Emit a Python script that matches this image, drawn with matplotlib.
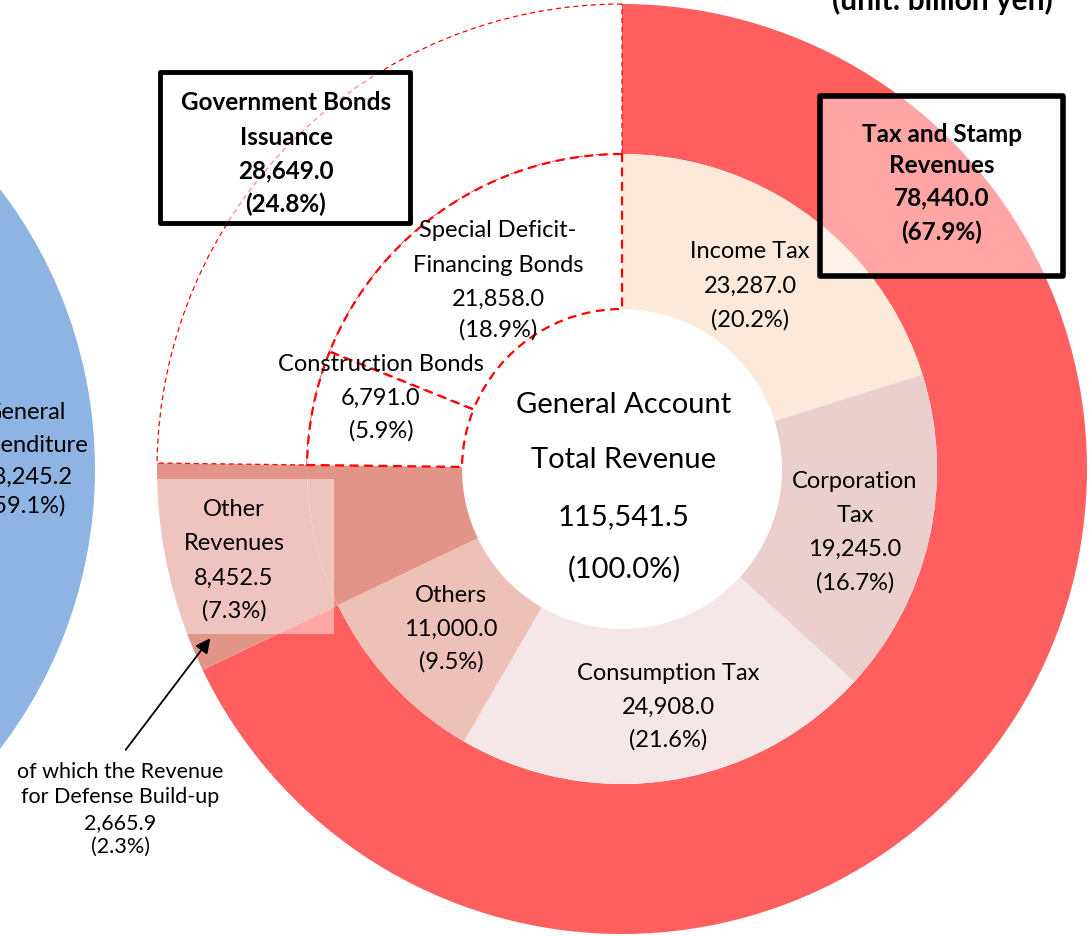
import matplotlib
matplotlib.use("Agg")
import matplotlib.pyplot as plt
from matplotlib.patches import Rectangle

# ---------------- data (billion yen) ----------------
outer_labels = ["Tax and Stamp\nRevenues", "Other\nRevenues", "Government Bonds\nIssuance"]
outer_values = [78440.0, 8452.5, 28649.0]

inner_labels = ["Income Tax", "Corporation\nTax", "Consumption Tax", "Others",
                "Other Revenues", "Construction Bonds", "Special Deficit-\nFinancing Bonds"]
inner_values = [23287.0, 19245.0, 24908.0, 11000.0, 8452.5, 6791.0, 21858.0]

total_revenue = 115541.5
defense_label = "of which the Revenue\nfor Defense Build-up"
defense_value = 2665.9
expenditure_label = "General\nExpenditure"
expenditure_value = 68245.2

outer_colors = ["#FF5F5F", "#E29489", "#FFFFFF"]
inner_colors = ["#FDE9DA", "#EBCFCF", "#F5E7E7", "#EDC1B7", "#E29489", "#FFFFFF", "#FFFFFF"]
blue = "#8DB4E2"

plt.rcParams['font.family'] = ['Lato', 'DejaVu Sans']

W, H = 1092, 937
fig = plt.figure(figsize=(W / 100, H / 100), dpi=100)
ax = fig.add_axes([0, 0, 1, 1])


def fmt(v):
    return f"{v:,.1f}"


def pct(v):
    return f"({v / total_revenue * 100:.1f}%)"


cx, cy = 622, H - 470
R_out, R_mid, R_in = 465, 315, 160

# expenditure pie (partly visible on the left)
ax.pie([expenditure_value], radius=460, center=(-365, H - 470), colors=[blue],
       wedgeprops=dict(linewidth=0))

wo, _ = ax.pie(outer_values, radius=R_out, center=(cx, cy), startangle=90,
               counterclock=False, colors=outer_colors,
               wedgeprops=dict(width=R_out - R_mid, linewidth=0))
wi, _ = ax.pie(inner_values, radius=R_mid, center=(cx, cy), startangle=90,
               counterclock=False, colors=inner_colors,
               wedgeprops=dict(width=R_mid - R_in, linewidth=0))

# dashed outlines for bond wedges
wo[2].set_edgecolor("#FF0000")
wo[2].set_linewidth(0.9)
wo[2].set_linestyle((0, (4, 3)))
for w in (wi[5], wi[6]):
    w.set_edgecolor("#FF0000")
    w.set_linewidth(1.6)
    w.set_linestyle((0, (4, 2.5)))
    w.set_zorder(3)

ax.set_xlim(0, W)
ax.set_ylim(0, H)
ax.axis('off')


def lines(x, baselines, texts, size, weight='normal'):
    for yb, t in zip(baselines, texts):
        ax.text(x, H - yb, t, ha='center', va='baseline', fontsize=size,
                fontweight=weight, color='black', zorder=10)


LS = 17

# inner ring labels
lines(750, [258, 293, 327], ["Income Tax", fmt(inner_values[0]), pct(inner_values[0])], LS)
lines(855, [488, 522, 556, 590], inner_labels[1].split("\n") + [fmt(inner_values[1]), pct(inner_values[1])], LS)
lines(668, [680, 714, 747], [inner_labels[2], fmt(inner_values[2]), pct(inner_values[2])], LS)
lines(451, [602, 636, 669], [inner_labels[3], fmt(inner_values[3]), pct(inner_values[3])], LS)
lines(381, [371, 405, 438], [inner_labels[5], fmt(inner_values[5]), pct(inner_values[5])], LS)
lines(498, [237, 272, 306, 337], inner_labels[6].split("\n") + [fmt(inner_values[6]), pct(inner_values[6])], LS)

# Other revenues label with translucent box
ax.add_patch(Rectangle((155, H - 635), 179, 155, facecolor=(1, 1, 1, 0.45),
                       edgecolor='none', zorder=5))
lines(234, [516, 550, 585, 618], outer_labels[1].split("\n") + [fmt(outer_values[1]), pct(outer_values[1])], LS)

# center text
lines(624, [413, 468, 525, 578],
      ["General Account", "Total Revenue", fmt(total_revenue), pct(total_revenue)], 21)

# boxed bold labels
ax.add_patch(Rectangle((160, H - 224), 250, 151, facecolor=(1, 1, 1, 0.55),
                       edgecolor='black', linewidth=3.5, joinstyle='round', zorder=8))
lines(286, [110, 145, 178, 212], outer_labels[2].split("\n") + [fmt(outer_values[2]), pct(outer_values[2])], 17.5, 'bold')

ax.add_patch(Rectangle((820, H - 277), 243, 180, facecolor=(1, 1, 1, 0.44),
                       edgecolor='black', linewidth=4, joinstyle='round', zorder=8))
lines(942, [142, 173, 205, 240], outer_labels[0].split("\n") + [fmt(outer_values[0]), pct(outer_values[0])], 17.5, 'bold')

# unit
lines(942, [10], ["(unit: billion yen)"], 21.5, 'bold')

# expenditure label (cut off at left)
lines(26, [419, 452, 484, 513], expenditure_label.split("\n") + [fmt(expenditure_value), pct(expenditure_value)], LS)

# defense annotation
ax.annotate("", xy=(212, H - 637), xytext=(124, H - 753),
            arrowprops=dict(arrowstyle='-|>', color='black', lw=1.3, mutation_scale=22),
            zorder=9)
lines(120, [778, 803, 829, 853], defense_label.split("\n") + [fmt(defense_value), pct(defense_value)], 15.5)

fig.savefig("out.png", dpi=100)
